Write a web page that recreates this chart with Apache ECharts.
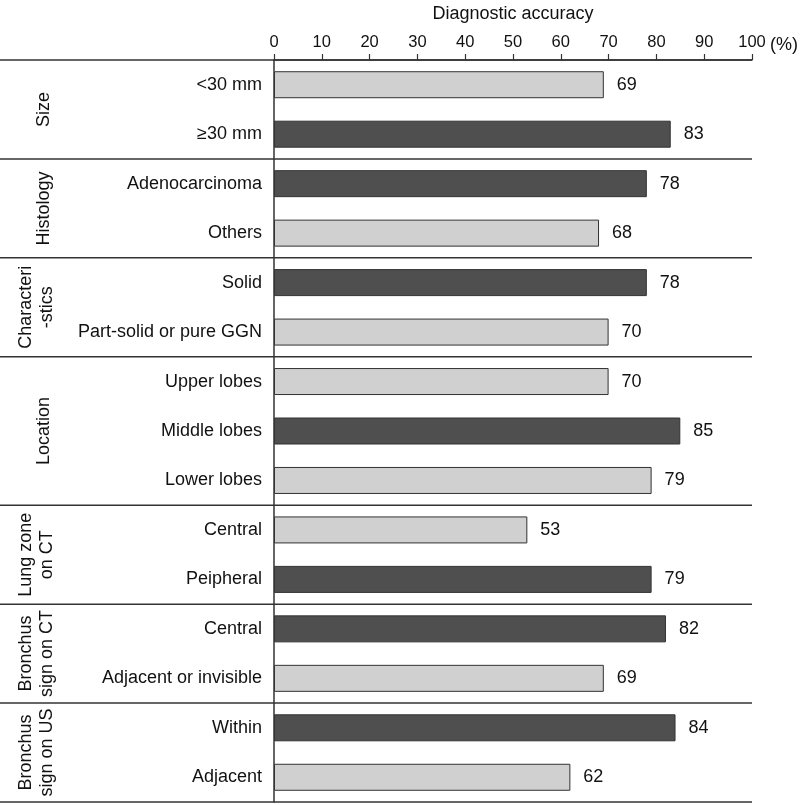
<!DOCTYPE html>
<html><head><meta charset="utf-8">
<script src="https://cdn.jsdelivr.net/npm/echarts@6/dist/echarts.min.js"></script>
<style>html,body{margin:0;padding:0;background:#fff}#c{width:800px;height:805px}</style>
</head><body><div id="c"></div>
<script>
const categories = ['<30 mm','≥30 mm','Adenocarcinoma','Others','Solid','Part-solid or pure GGN','Upper lobes','Middle lobes','Lower lobes','Central','Peipheral','Central','Adjacent or invisible','Within','Adjacent'];
const values = [69,83,78,68,78,70,70,85,79,53,79,82,69,84,62];
const shades = ['L','D','D','L','D','L','L','D','L','L','D','D','L','D','L'];
const groupNames = ['Size','Histology','Characteri\n-stics','Location','Lung zone\non CT','Bronchus\nsign on CT','Bronchus\nsign on US'];
const groupSizes = [2,2,2,3,2,2,2];

const FONT = '"Liberation Sans", Arial, sans-serif';
const TXT = '#111';
const LINE = '#333';
const chart = echarts.init(document.getElementById('c'), null, {renderer:'canvas'});
chart.setOption({
  animation:false,
  textStyle:{fontFamily:FONT},
  grid:{left:274,right:48,top:55,bottom:3,containLabel:false},
  xAxis:{type:'value',position:'top',min:0,max:100,interval:10,
    name:'Diagnostic accuracy',nameLocation:'middle',nameGap:37,
    nameTextStyle:{fontSize:18,color:TXT,fontFamily:FONT},
    axisLine:{show:true,lineStyle:{color:LINE,width:1.5}},
    axisTick:{show:true,length:6,lineStyle:{color:LINE,width:1.2}},
    axisLabel:{fontSize:16.5,color:TXT,margin:9,fontFamily:FONT},
    splitLine:{show:false}},
  yAxis:{type:'category',data:categories,inverse:true,
    axisLine:{show:true,lineStyle:{color:LINE,width:1.5}},
    axisTick:{show:false},
    axisLabel:{fontSize:18,color:TXT,margin:12,fontFamily:FONT}},
  series:[{type:'bar',barWidth:27,
    data:values.map((v,i)=>({value:v,itemStyle:{color:shades[i]==='D'?'#4f4f4f':'#d0d0d0'}})),
    itemStyle:{borderColor:LINE,borderWidth:1},
    label:{show:true,position:'right',distance:13,fontSize:18,color:TXT,fontFamily:FONT}}]
});

const yc = i => chart.convertToPixel({yAxisIndex:0}, i);
const h = yc(1) - yc(0);
const xEnd = chart.convertToPixel({xAxisIndex:0}, 100);
const g = [];
let idx = 0;
const topY = yc(0) - h/2;
g.push({type:'line',shape:{x1:0,y1:topY,x2:xEnd,y2:topY},style:{stroke:LINE,lineWidth:1.5},z:10});
groupSizes.forEach((n,gi)=>{
  const first = idx, last = idx + n - 1;
  const cy = (yc(first) + yc(last)) / 2;
  const twoLine = groupNames[gi].indexOf('\n') >= 0;
  g.push({type:'text',x:twoLine?37:44,y:cy,rotation:Math.PI/2,
    style:{text:groupNames[gi],fill:TXT,font:'18px '+FONT,textAlign:'center',textVerticalAlign:'middle',lineHeight:21},z:10});
  const by = yc(last) + h/2;
  g.push({type:'line',shape:{x1:0,y1:by,x2:xEnd,y2:by},style:{stroke:LINE,lineWidth:1.5},z:10});
  idx += n;
});
g.push({type:'text',x:xEnd+18,y:topY-15,style:{text:'(%)',fill:TXT,font:'18px '+FONT,textAlign:'left',textVerticalAlign:'middle'},z:10});
chart.setOption({graphic:g});
</script>
</body></html>
